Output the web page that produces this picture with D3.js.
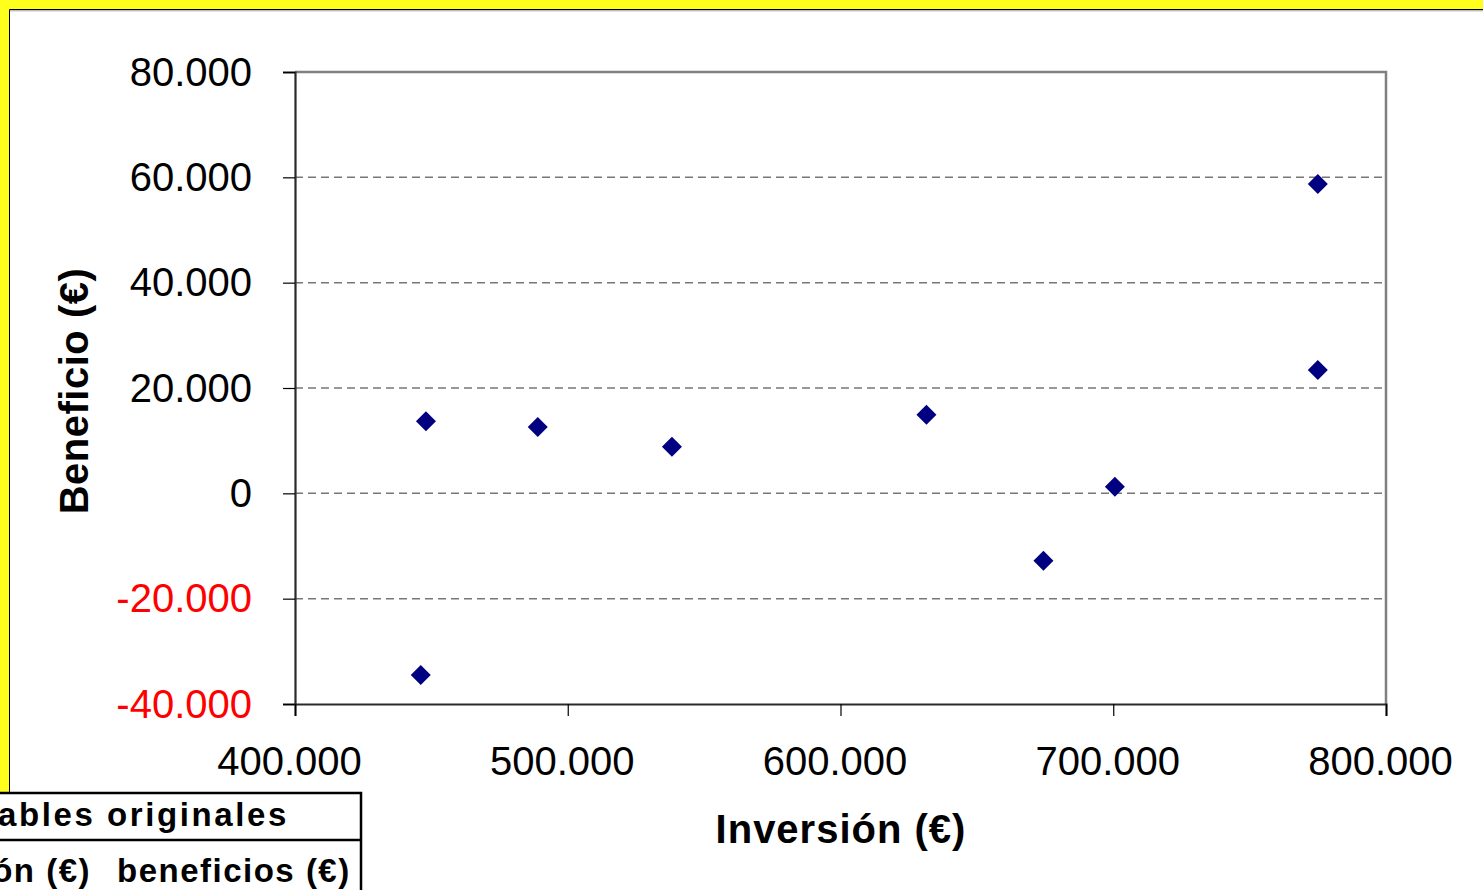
<!DOCTYPE html>
<html>
<head>
<meta charset="utf-8">
<script src="https://cdn.jsdelivr.net/npm/d3@7"></script>
<style>
  html, body { margin: 0; padding: 0; background: #ffffff; }
  svg { display: block; font-family: "Liberation Sans", Arial, sans-serif; }
</style>
</head>
<body>
<svg id="chart" width="1483" height="890"></svg>
<script>
// Inversión vs. beneficio (€)
const inversion = [446100, 448000, 489000, 538200, 631500, 674400, 700600, 775000, 775000];
const beneficio = [-34500, 13700, 12600, 8850, 14900, -12800, 1250, 58750, 23400];

const xTicks = [400000, 500000, 600000, 700000, 800000];
const yTicks = [-40000, -20000, 0, 20000, 40000, 60000, 80000];

const xTitle = "Inversión (€)";
const yTitle = "Beneficio (€)";
const tableTitle = "Variables originales";
const tableCols = ["inversión (€)", "beneficios (€)"];

const es = d3.formatLocale({ decimal: ",", thousands: ".", grouping: [3], currency: ["", " €"], minus: "-" });
const fmt = es.format(",.0f");

const svg = d3.select("#chart");
const W = 1483, H = 890;

// Frame: yellow surround with a thin dark rule
svg.append("rect").attr("x", 0).attr("y", 0).attr("width", W).attr("height", H).attr("fill", "#ffffff");
svg.append("rect").attr("x", 0).attr("y", 0).attr("width", W).attr("height", 9.5).attr("fill", "#ffff1e");
svg.append("rect").attr("x", 0).attr("y", 0).attr("width", 9.5).attr("height", 798).attr("fill", "#ffff1e");
svg.append("line").attr("x1", 9.5).attr("x2", W).attr("y1", 9.5).attr("y2", 9.5).attr("stroke", "#000").attr("stroke-width", 1);
svg.append("line").attr("x1", 10).attr("x2", W).attr("y1", 10.8).attr("y2", 10.8).attr("stroke", "#a0a0a0").attr("stroke-width", 1);
svg.append("line").attr("x1", 9.5).attr("x2", 9.5).attr("y1", 9.5).attr("y2", 798).attr("stroke", "#000").attr("stroke-width", 1);

const x = d3.scaleLinear().domain([400000, 800000]).range([295, 1386]);
const y = d3.scaleLinear().domain([-40000, 80000]).range([704, 72]);

// Gridlines
svg.append("g").selectAll("line")
  .data(yTicks.filter(v => v > -40000 && v < 80000))
  .join("line")
  .attr("x1", x(400000)).attr("x2", x(800000))
  .attr("y1", d => y(d)).attr("y2", d => y(d))
  .attr("stroke", "#777777").attr("stroke-width", 1.5)
  .attr("stroke-dasharray", "8,5");

// Plot border (top and right)
svg.append("path")
  .attr("d", `M${x(400000)},${y(80000)}H${x(800000)}V${y(-40000)}`)
  .attr("fill", "none").attr("stroke", "#808080").attr("stroke-width", 2.5);

// Y axis
const yAxis = svg.append("g").attr("transform", `translate(${x(400000)},0)`)
  .call(d3.axisLeft(y).tickValues(yTicks).tickSize(12).tickPadding(31).tickFormat(fmt));
yAxis.select(".domain").attr("stroke", "#2a2a2a").attr("stroke-width", 2.2);
yAxis.selectAll(".tick line").attr("stroke", "#000").attr("stroke-width", 1.2);
yAxis.selectAll(".tick text")
  .attr("font-size", 40).attr("font-family", "Liberation Sans, Arial, sans-serif")
  .attr("dy", "0.33em")
  .attr("fill", d => d < 0 ? "#ff0000" : "#000000");

// X axis
const xAxis = svg.append("g").attr("transform", `translate(0,${y(-40000)})`)
  .call(d3.axisBottom(x).tickValues(xTicks).tickSize(12).tickPadding(0).tickFormat(fmt));
xAxis.select(".domain").attr("stroke", "#2a2a2a").attr("stroke-width", 2.2);
xAxis.selectAll(".tick line").attr("stroke", "#000").attr("stroke-width", 1.2);
xAxis.selectAll(".tick text")
  .attr("font-size", 40).attr("font-family", "Liberation Sans, Arial, sans-serif")
  .attr("fill", "#000").attr("x", -6).attr("y", 71).attr("dy", 0);

// Axis titles
svg.append("text")
  .attr("x", 841).attr("y", 843)
  .attr("text-anchor", "middle").attr("font-weight", "bold").attr("font-size", 40)
  .attr("letter-spacing", 1)
  .text(xTitle);
svg.append("text")
  .attr("transform", "translate(88,391) rotate(-90)")
  .attr("text-anchor", "middle").attr("font-weight", "bold").attr("font-size", 40)
  .attr("letter-spacing", 0.5)
  .text(yTitle);

// Points: navy diamonds
const pts = inversion.map((v, i) => ({ x: v, y: beneficio[i] }));
svg.append("g").selectAll("path")
  .data(pts)
  .join("path")
  .attr("transform", d => `translate(${x(d.x)},${y(d.y)})`)
  .attr("d", "M0,-10L10,0L0,10L-10,0Z")
  .attr("fill", "#000080");

// Data table fragment (bottom-left), running off the page edge
const tbl = svg.append("g");
tbl.append("rect")
  .attr("x", -10).attr("y", 793).attr("width", 371).attr("height", 120)
  .attr("fill", "#ffffff").attr("stroke", "#000").attr("stroke-width", 2.5);
tbl.append("line").attr("x1", -10).attr("x2", 361).attr("y1", 840).attr("y2", 840)
  .attr("stroke", "#000").attr("stroke-width", 2.5);
tbl.append("text")
  .attr("x", 289).attr("y", 826).attr("text-anchor", "end")
  .attr("font-weight", "bold").attr("font-size", 33).attr("letter-spacing", 2.6)
  .text(tableTitle);
tbl.append("text")
  .attr("x", 91).attr("y", 882).attr("text-anchor", "end")
  .attr("font-weight", "bold").attr("font-size", 33).attr("letter-spacing", 1.5)
  .text(tableCols[0]);
tbl.append("text")
  .attr("x", 117).attr("y", 882).attr("text-anchor", "start")
  .attr("font-weight", "bold").attr("font-size", 33).attr("letter-spacing", 1.5)
  .text(tableCols[1]);
</script>
</body>
</html>
